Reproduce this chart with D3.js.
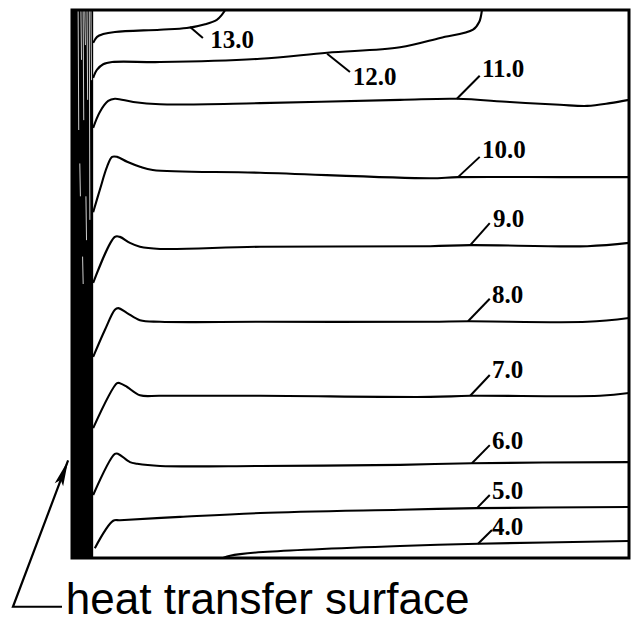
<!DOCTYPE html>
<html><head><meta charset="utf-8">
<script src="https://cdn.jsdelivr.net/npm/d3@7"></script>
<style>body{margin:0;background:#fff}svg{display:block}</style>
</head><body>
<svg id="c" width="631" height="626"></svg>
<script>
// ---- data (x: % of width from heat transfer surface side, y: % of height) ----
const levels = ["13.0","12.0","11.0","10.0","9.0","8.0","7.0","6.0","5.0","4.0"];

const iso13 = [[3.8,94.0],[4.5,95.1],[5.6,95.6],[7.7,96.0],[15.8,96.4],[20.6,96.7],[23.9,97.4],[26.0,98.2],[26.9,99.1],[27.5,100]];
const iso12 = [[3.8,87.6],[4.5,89.1],[5.6,90.1],[7.2,90.5],[15.8,90.5],[33.8,91.1],[45.8,92.2],[58.9,93.2],[66.1,94.9],[72.0,96.4],[73.1,97.8],[73.6,100]];
const iso11 = [[3.8,78.5],[5.0,81.4],[6.5,83.4],[7.7,83.8],[11.0,83.2],[15.8,82.8],[33.8,83.0],[58.9,83.6],[69.1,83.8],[78.6,83.2],[87.6,82.7],[92.5,82.5],[96.6,83.0],[100,83.6]];
const iso10 = [[3.8,63.1],[5.0,67.2],[6.3,71.4],[7.2,73.2],[8.1,73.2],[9.9,72.3],[12.2,71.4],[14.5,70.8],[33.8,70.3],[64.3,69.3],[69.3,69.5],[87.6,69.5],[100,69.5]];
const iso9  = [[3.8,50.2],[7.7,58.6],[8.6,58.6],[10.4,57.5],[12.2,56.8],[15.8,56.4],[33.8,56.8],[64.3,56.9],[71.5,57.1],[92.5,56.9],[100,57.5]];
const iso8  = [[3.8,36.7],[5.9,41.6],[7.7,45.3],[8.3,45.6],[9.9,44.7],[12.2,43.4],[15.8,43.1],[33.8,43.1],[64.3,43.1],[71.1,43.2],[92.5,43.1],[100,43.8]];
const iso7  = [[3.8,23.7],[8.1,31.9],[8.6,31.9],[9.9,31.2],[12.2,29.7],[15.8,29.6],[33.8,29.6],[64.3,29.4],[71.5,29.6],[94.8,29.6],[100,30.1]];
const iso6  = [[3.8,11.5],[7.7,19.0],[8.3,19.0],[10.4,17.5],[11.7,17.2],[15.8,16.8],[33.8,16.8],[58.9,17.0],[71.8,17.3],[100,17.5]];
const iso5  = [[4.1,1.8],[7.4,6.8],[8.6,6.9],[19.4,7.5],[33.8,8.2],[58.9,8.8],[72.7,9.1],[100,9.3]];
const iso4  = [[27.1,0],[28.4,0.4],[30.2,0.7],[34.3,1.1],[58.9,2.2],[72.9,2.6],[100,3.1]];

const leaderStart = [[21.2,96.9],[45.8,92.0],[69.1,83.8],[69.3,69.5],[71.5,57.1],[71.1,43.2],[71.5,29.6],[71.8,17.3],[72.7,9.1],[72.9,2.6]];
const leaderEnd   = [[23.5,94.9],[49.9,88.7],[73.2,88.0],[73.2,73.2],[75.0,61.1],[75.0,47.3],[75.0,33.4],[75.0,20.6],[75.0,11.5],[75.4,5.1]];
const labelPos    = [[24.8,93.1],[50.4,86.3],[73.6,87.8],[73.6,73.0],[75.6,60.4],[75.4,46.5],[75.4,32.8],[75.4,19.9],[75.4,10.8],[75.4,4.2]];

// heat transfer surface (densely packed isotherms) and the light gaps between them
const wallThickness = 3.8;
const wallGaps = [[1.1,100,78.1],[1.6,100,90.9],[2.0,100,79.9],[2.3,100,93.6],[2.7,100,83.6],[3.1,100,61.7],[3.4,100,87.2],[1.4,72,66],[2.5,66,58],[1.9,55,50]];

// annotation
const annotationText = "heat transfer surface";
const arrowTip = [-0.7,17.8];
const arrowCorner = [-10.6,-8.9];
const arrowTail = [-1.8,-8.9];
const annotationPos = [-1.1,-10.2];

// ---- drawing ----
const isos = [iso13,iso12,iso11,iso10,iso9,iso8,iso7,iso6,iso5,iso4];
const svg = d3.select("#c");
const x = d3.scaleLinear().domain([0,100]).range([72,629]);
const y = d3.scaleLinear().domain([0,100]).range([558,10]);

svg.append("rect").attr("width",631).attr("height",626).attr("fill","#fff");

const defs = svg.append("defs");
defs.append("clipPath").attr("id","plot").append("rect")
  .attr("x",x(0)).attr("y",y(100)).attr("width",x(100)-x(0)).attr("height",y(0)-y(100));

const g = svg.append("g").attr("clip-path","url(#plot)");

// wall band
g.append("rect")
  .attr("x",x(0)).attr("y",y(100))
  .attr("width",x(wallThickness)-x(0)).attr("height",y(0)-y(100))
  .attr("fill","#000");
g.selectAll("line.gap").data(wallGaps).join("line").attr("class","gap")
  .attr("x1",d=>x(d[0])).attr("x2",d=>x(d[0])+0.6)
  .attr("y1",d=>y(d[1])).attr("y2",d=>y(d[2]))
  .attr("stroke","#fff").attr("stroke-width",0.9).attr("stroke-opacity",0.9);

const line = d3.line().x(d=>x(d[0])).y(d=>y(d[1])).curve(d3.curveCatmullRom.alpha(0.5));

g.selectAll("path.iso").data(isos).join("path").attr("class","iso")
  .attr("d",line).attr("fill","none").attr("stroke","#000")
  .attr("stroke-width",2.1).attr("stroke-linejoin","round");

svg.selectAll("line.leader").data(levels).join("line").attr("class","leader")
  .attr("x1",(d,i)=>x(leaderStart[i][0])).attr("y1",(d,i)=>y(leaderStart[i][1]))
  .attr("x2",(d,i)=>x(leaderEnd[i][0])).attr("y2",(d,i)=>y(leaderEnd[i][1]))
  .attr("stroke","#000").attr("stroke-width",2);

svg.selectAll("text.lvl").data(levels).join("text").attr("class","lvl")
  .attr("x",(d,i)=>x(labelPos[i][0])).attr("y",(d,i)=>y(labelPos[i][1]))
  .attr("font-family","'Liberation Serif','Times New Roman',serif")
  .attr("font-weight","bold").attr("font-size",25).attr("fill","#000")
  .text(d=>d);

// frame
svg.append("rect")
  .attr("x",x(0)).attr("y",y(100)).attr("width",x(100)-x(0)).attr("height",y(0)-y(100))
  .attr("fill","none").attr("stroke","#000").attr("stroke-width",3);

// annotation arrow
const tip=[x(arrowTip[0]),y(arrowTip[1])], cor=[x(arrowCorner[0]),y(arrowCorner[1])], tail=[x(arrowTail[0]),y(arrowTail[1])];
svg.append("path")
  .attr("d",d3.line()([tail,cor,tip]))
  .attr("fill","none").attr("stroke","#000").attr("stroke-width",2.2);
const dx=tip[0]-cor[0], dy=tip[1]-cor[1], L=Math.hypot(dx,dy), ux=dx/L, uy=dy/L;
const hl=26, hw=4.5;
const base=[tip[0]-ux*hl, tip[1]-uy*hl];
svg.append("path")
  .attr("d",d3.line()([tip,[base[0]-uy*hw, base[1]+ux*hw],[base[0]+ux*5, base[1]+uy*5],[base[0]+uy*hw, base[1]-ux*hw]])+"Z")
  .attr("fill","#000");

svg.append("text")
  .attr("x",x(annotationPos[0])).attr("y",y(annotationPos[1]))
  .attr("font-family","'Liberation Sans',Arial,Helvetica,sans-serif")
  .attr("font-size",44).attr("fill","#000")
  .text(annotationText);
</script>
</body></html>
